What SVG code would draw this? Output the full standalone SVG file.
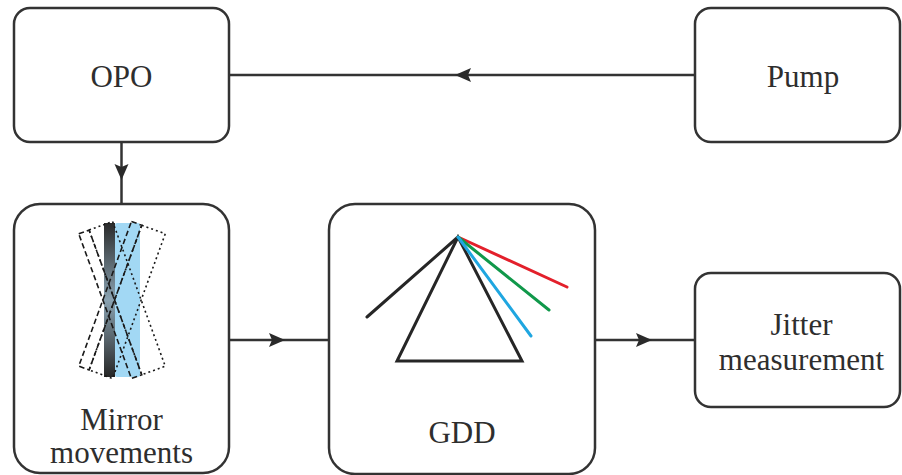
<svg xmlns="http://www.w3.org/2000/svg" width="902" height="475" viewBox="0 0 902 475">
  <style>
    .box { fill: #ffffff; stroke: #333333; stroke-width: 2.5; }
    .label { font-family: 'Liberation Serif', 'Times New Roman', serif; font-size: 31px; fill: #2e2e2e; text-anchor: middle; }
    .wire { fill: none; stroke: #333333; stroke-width: 2.5; }
    .prism { fill: none; stroke: #262626; stroke-width: 3; stroke-linecap: round; stroke-linejoin: miter; }
    .ray { fill: none; stroke-width: 3; stroke-linecap: round; }
    .dash { fill: none; stroke: #1a1a1a; stroke-width: 1.6; stroke-dasharray: 5.5 3; }
    .dot { fill: none; stroke: #1a1a1a; stroke-width: 1.6; stroke-dasharray: 2 3; }
  </style>
  <defs>
    <marker id="arrow" markerWidth="18" markerHeight="16" refX="16" refY="7.5" orient="auto" markerUnits="userSpaceOnUse">
      <path d="M0,0.5 L16,7.5 L0,14.5 L3,7.5 Z" fill="#2a2a2a"/>
    </marker>
    <linearGradient id="mirrorShade" x1="0" y1="0" x2="0" y2="1">
      <stop offset="0" stop-color="#2a2a2a"/>
      <stop offset="0.5" stop-color="#8aa3b2"/>
      <stop offset="1" stop-color="#262626"/>
    </linearGradient>
    <!-- tilted mirror outline: dark slab dashed, substrate dotted -->
    <g id="tiltedMirror">
      <rect class="dot" x="-7" y="-77" width="25" height="154"/>
      <rect class="dash" x="-18" y="-77" width="11" height="154"/>
    </g>
  </defs>

  <!-- connectors -->
  <g id="connectors">
    <path class="wire" d="M695,75 L455,75 L229,75" marker-mid="url(#arrow)"/>
    <path class="wire" d="M121.5,142 L121.5,180 L121.5,204" marker-mid="url(#arrow)"/>
    <path class="wire" d="M229,340 L285,340 L329,340" marker-mid="url(#arrow)"/>
    <path class="wire" d="M595,340 L652,340 L695,340" marker-mid="url(#arrow)"/>
  </g>

  <g id="opo">
    <rect class="box" x="14" y="8" width="215" height="134" rx="16"/>
    <text class="label" x="121.5" y="87">OPO</text>
  </g>

  <g id="pump">
    <rect class="box" x="695" y="8" width="205" height="134" rx="16"/>
    <text class="label" x="803" y="87">Pump</text>
  </g>

  <g id="mirror">
    <rect class="box" x="14" y="204" width="215" height="269" rx="26"/>
    <rect x="115" y="223" width="25" height="154" rx="2" fill="#a2d8f4"/>
    <rect x="104" y="223" width="11" height="154" fill="url(#mirrorShade)"/>
    <use href="#tiltedMirror" transform="translate(122,300) rotate(-20)"/>
    <use href="#tiltedMirror" transform="translate(122,300) rotate(20)"/>
    <text class="label" x="121.5" y="430">Mirror</text>
    <text class="label" x="121.5" y="463">movements</text>
  </g>

  <g id="gdd">
    <rect class="box" x="329" y="204" width="266" height="270" rx="26"/>
    <path class="prism" d="M458,237 L522,361 L397,361 Z"/>
    <path class="prism" d="M367,317 L458,237"/>
    <path class="ray" stroke="#e3202b" d="M458,237 L567,287"/>
    <path class="ray" stroke="#10984a" d="M458,237 L549,310"/>
    <path class="ray" stroke="#1fa6e0" d="M458,237 L531,336"/>
    <text class="label" x="462" y="443">GDD</text>
  </g>

  <g id="jitter">
    <rect class="box" x="695" y="273" width="205" height="134" rx="16"/>
    <text class="label" x="801.5" y="335">Jitter</text>
    <text class="label" x="801.5" y="370">measurement</text>
  </g>
</svg>
